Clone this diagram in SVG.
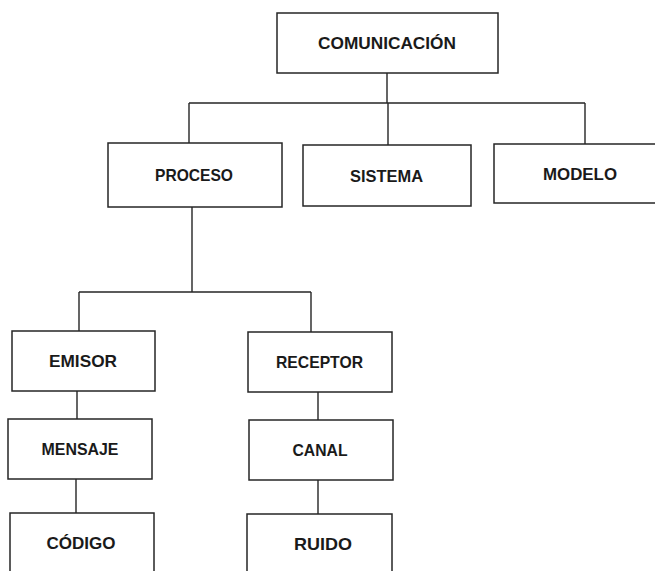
<svg xmlns="http://www.w3.org/2000/svg" width="655" height="571" viewBox="0 0 655 571">
<style>
.box{fill:#fff;stroke:#262626;stroke-width:1.5}
.lbl{font-family:"Liberation Sans",Arial,sans-serif;font-weight:bold;font-size:16.5px;fill:#1a1a1a;text-anchor:middle}
.con{fill:none;stroke:#262626;stroke-width:1.4}
</style>
<rect width="655" height="571" fill="#fff"/>
<g id="connectors">
<path class="con" d="M387,73V103M189,103H585M189,103V143M388,103V145M585,103V144"/>
<path class="con" d="M192,207V292M79,292H311M79,292V331M311,292V332"/>
<path class="con" d="M77,391V419M76,479V513M318,392V420M318,480V515"/>
</g>
<g id="comunicacion"><rect class="box" x="277" y="13" width="221" height="60"/><text class="lbl" x="387" y="49" textLength="138" lengthAdjust="spacingAndGlyphs">COMUNICACIÓN</text></g>
<g id="proceso"><rect class="box" x="108" y="143" width="174" height="64"/><text class="lbl" x="194" y="181" textLength="78" lengthAdjust="spacingAndGlyphs">PROCESO</text></g>
<g id="sistema"><rect class="box" x="303" y="145" width="168" height="61"/><text class="lbl" x="386.5" y="182" textLength="73" lengthAdjust="spacingAndGlyphs">SISTEMA</text></g>
<g id="modelo"><rect class="box" x="494" y="144" width="172" height="59"/><text class="lbl" x="580" y="180" textLength="74" lengthAdjust="spacingAndGlyphs">MODELO</text></g>
<g id="emisor"><rect class="box" x="12" y="331" width="143" height="60"/><text class="lbl" x="83" y="367" textLength="68" lengthAdjust="spacingAndGlyphs">EMISOR</text></g>
<g id="receptor"><rect class="box" x="248" y="332" width="144" height="60"/><text class="lbl" x="319.5" y="368" textLength="87" lengthAdjust="spacingAndGlyphs">RECEPTOR</text></g>
<g id="mensaje"><rect class="box" x="8" y="419" width="144" height="60"/><text class="lbl" x="80" y="455" textLength="77" lengthAdjust="spacingAndGlyphs">MENSAJE</text></g>
<g id="canal"><rect class="box" x="249" y="420" width="144" height="60"/><text class="lbl" x="320" y="456" textLength="55" lengthAdjust="spacingAndGlyphs">CANAL</text></g>
<g id="codigo"><rect class="box" x="10" y="513" width="144" height="70"/><text class="lbl" x="81" y="549" textLength="69" lengthAdjust="spacingAndGlyphs">CÓDIGO</text></g>
<g id="ruido"><rect class="box" x="247" y="514" width="145" height="70"/><text class="lbl" x="323" y="550" textLength="58" lengthAdjust="spacingAndGlyphs">RUIDO</text></g>
</svg>
